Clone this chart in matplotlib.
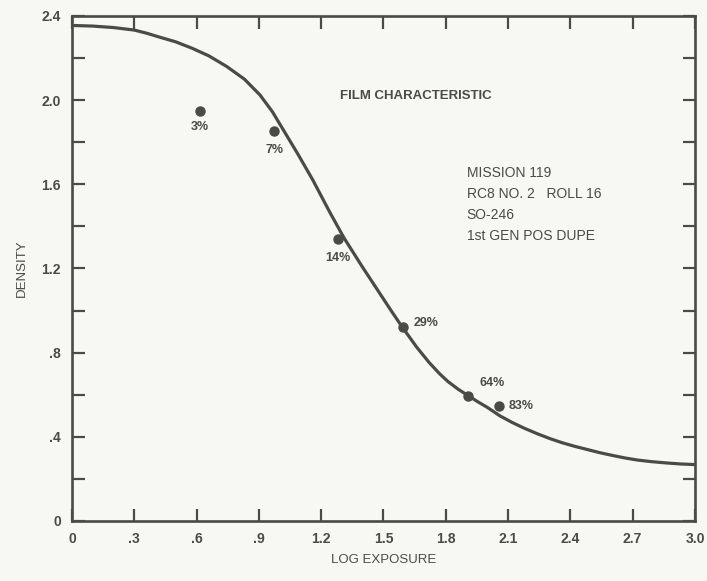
import matplotlib
matplotlib.use('Agg')
import matplotlib.pyplot as plt
from matplotlib.ticker import MultipleLocator, FixedLocator

# characteristic curve
curve_x = [0.0, 0.1, 0.2, 0.3, 0.36, 0.42, 0.5, 0.58, 0.66, 0.745, 0.83, 0.905, 0.965, 1.02,
           1.09, 1.16, 1.24, 1.31, 1.40, 1.48, 1.54, 1.59, 1.66, 1.72, 1.77, 1.81, 1.86, 1.91,
           1.96, 2.0, 2.06, 2.12, 2.18, 2.24, 2.30, 2.36, 2.42, 2.48, 2.54, 2.6, 2.66, 2.72,
           2.79, 2.86, 2.93, 3.0]
curve_y = [2.355, 2.352, 2.345, 2.333, 2.318, 2.30, 2.277, 2.246, 2.21, 2.16, 2.10, 2.025, 1.945, 1.855,
           1.74, 1.62, 1.47, 1.345, 1.205, 1.085, 0.995, 0.922, 0.826, 0.753, 0.70, 0.663, 0.626, 0.594,
           0.563, 0.54, 0.50, 0.468, 0.44, 0.415, 0.392, 0.372, 0.355, 0.34, 0.325, 0.312, 0.30, 0.29,
           0.282, 0.276, 0.271, 0.268]

# measured points
pt_x = [0.616, 0.974, 1.282, 1.592, 1.908, 2.057]
pt_y = [1.95, 1.854, 1.34, 0.92, 0.596, 0.547]
pt_labels = ['3%', '7%', '14%', '29%', '64%', '83%']

xticks = [0, 0.3, 0.6, 0.9, 1.2, 1.5, 1.8, 2.1, 2.4, 2.7, 3.0]
xticklabels = ['0', '.3', '.6', '.9', '1.2', '1.5', '1.8', '2.1', '2.4', '2.7', '3.0']
yticks = [0, 0.4, 0.8, 1.2, 1.6, 2.0, 2.4]
yticklabels = ['0', '.4', '.8', '1.2', '1.6', '2.0', '2.4']

info = ['MISSION 119', 'RC8 NO. 2   ROLL 16', 'SO-246', '1st GEN POS DUPE']

ink = '#4a4a46'
plt.rcParams['font.family'] = ['Liberation Sans', 'DejaVu Sans']

fig = plt.figure(figsize=(7.07, 5.81), dpi=100, facecolor='#f7f7f4')
ax = fig.add_axes([0.1018, 0.1033, 0.8812, 0.8692])
ax.set_facecolor('#f7f7f4')

ax.plot(curve_x, curve_y, color=ink, lw=2.3, solid_capstyle='round', solid_joinstyle='round')
ax.plot(pt_x, pt_y, 'o', color=ink, ms=6.5)

# label offsets in points
offs = [(0, -12), (0, -13.5), (0, -13.5), (8, 3), (17, 9), (6.5, 0)]
has = ['center', 'center', 'center', 'left', 'center', 'left']
for x, y, s, o, h in zip(pt_x, pt_y, pt_labels, offs, has):
    ax.annotate(s, (x, y), xytext=o, textcoords='offset points', ha=h, va='center',
                fontsize=9, fontweight='bold', color=ink)

ax.text(1.29, 2.02, 'FILM CHARACTERISTIC', fontsize=9.5, fontweight='bold', color=ink,
        ha='left', va='center')
for i, line in enumerate(info):
    ax.text(1.90, 1.655 - i * 0.1, line, fontsize=10, color=ink, ha='left', va='center')

ax.set_xlim(0, 3.0)
ax.set_ylim(0, 2.4)
ax.set_xticks(xticks)
ax.set_xticklabels(xticklabels)
ax.yaxis.set_major_locator(FixedLocator(yticks))
ax.set_yticklabels(yticklabels)
ax.yaxis.set_minor_locator(MultipleLocator(0.2))

for sp in ax.spines.values():
    sp.set_color(ink)
    sp.set_linewidth(1.9)

ax.tick_params(which='both', direction='in', length=9, width=1.6, color=ink,
               top=True, right=True, labelsize=10, labelcolor=ink, pad=8)
for lab in ax.get_xticklabels() + ax.get_yticklabels():
    lab.set_fontweight('bold')

ax.set_xlabel('LOG EXPOSURE', fontsize=9.5, color=ink, labelpad=6)
ax.set_ylabel('DENSITY', fontsize=9.5, color=ink, labelpad=10)

fig.savefig('out.png', dpi=100, facecolor=fig.get_facecolor())
